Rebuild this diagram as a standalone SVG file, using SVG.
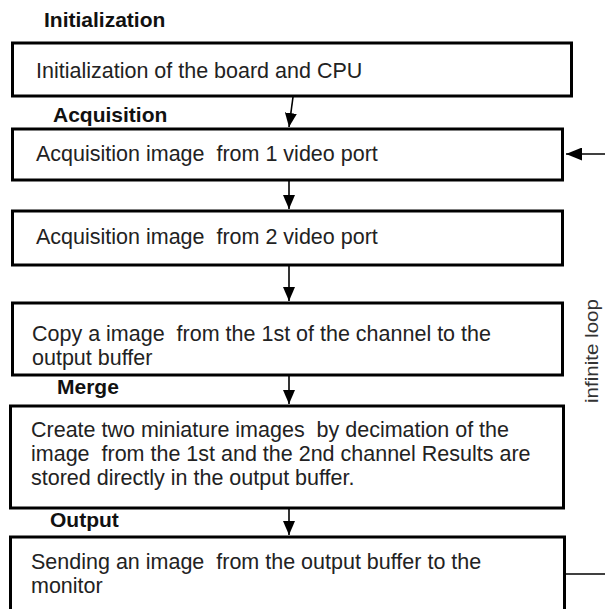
<svg xmlns="http://www.w3.org/2000/svg" width="605" height="609" viewBox="0 0 605 609">
  <defs>
    <marker id="head" viewBox="0 0 14 12" refX="14" refY="6" markerWidth="14" markerHeight="12" markerUnits="userSpaceOnUse" orient="auto">
      <path d="M0,0 L14,6 L0,12 z" fill="#000"/>
    </marker>
    <marker id="headSide" viewBox="0 0 16 13" refX="16" refY="6.5" markerWidth="16" markerHeight="13" markerUnits="userSpaceOnUse" orient="auto">
      <path d="M0,0 L16,6.5 L0,13 z" fill="#000"/>
    </marker>
    <style>
      .box { fill: #fff; stroke: #000; stroke-width: 3; }
      .txt { font-family: "Liberation Sans", Arial, sans-serif; font-size: 21.5px; fill: #222; white-space: pre; }
      .lbl { font-family: "Liberation Sans", Arial, sans-serif; font-size: 21px; font-weight: bold; fill: #111; }
      .side { font-family: "Liberation Sans", Arial, sans-serif; font-size: 18px; fill: #333; }
      .conn { stroke: #000; stroke-width: 1.6; fill: none; }
    </style>
  </defs>
  <rect width="605" height="609" fill="#fff"/>

  <!-- stage titles -->
  <text class="lbl" x="44" y="27">Initialization</text>
  <text class="lbl" x="53" y="122">Acquisition</text>
  <text class="lbl" x="57" y="394">Merge</text>
  <text class="lbl" x="50" y="527">Output</text>

  <g id="init">
    <rect class="box" x="12.5" y="43" width="559" height="53"/>
    <text class="txt" x="36" y="78" xml:space="preserve">Initialization of the board and CPU</text>
  </g>

  <g id="acq1">
    <rect class="box" x="12.5" y="129" width="550" height="51"/>
    <text class="txt" x="36" y="161" xml:space="preserve">Acquisition image  from 1 video port</text>
  </g>

  <g id="acq2">
    <rect class="box" x="12.5" y="211" width="550" height="54"/>
    <text class="txt" x="36" y="244" xml:space="preserve">Acquisition image  from 2 video port</text>
  </g>

  <g id="copy">
    <rect class="box" x="12.5" y="303" width="550" height="72"/>
    <text class="txt" x="32" y="341" xml:space="preserve">Copy a image  from the 1st of the channel to the</text>
    <text class="txt" x="32" y="365">output buffer</text>
  </g>

  <g id="merge">
    <rect class="box" x="10.5" y="406" width="553" height="102"/>
    <text class="txt" x="31" y="437" xml:space="preserve">Create two miniature images  by decimation of the</text>
    <text class="txt" x="31" y="461" xml:space="preserve">image  from the 1st and the 2nd channel Results are</text>
    <text class="txt" x="31" y="485">stored directly in the output buffer.</text>
  </g>

  <g id="output">
    <rect class="box" x="10.5" y="537" width="554" height="90"/>
    <text class="txt" x="31" y="569" xml:space="preserve">Sending an image  from the output buffer to the</text>
    <text class="txt" x="31" y="593">monitor</text>
  </g>

  <text class="side" transform="translate(598,351) rotate(-90)" text-anchor="middle" textLength="104" lengthAdjust="spacingAndGlyphs">infinite loop</text>

  <g id="connectors">
    <line class="conn" x1="293" y1="97" x2="289" y2="127" marker-end="url(#head)"/>
    <line class="conn" x1="289" y1="181" x2="289" y2="209" marker-end="url(#head)"/>
    <line class="conn" x1="289" y1="266" x2="289" y2="301" marker-end="url(#head)"/>
    <line class="conn" x1="289" y1="376" x2="289" y2="404" marker-end="url(#head)"/>
    <line class="conn" x1="289" y1="509" x2="289" y2="535" marker-end="url(#head)"/>
    <line class="conn" x1="605" y1="154" x2="566" y2="154" marker-end="url(#headSide)"/>
    <line class="conn" x1="565" y1="574" x2="605" y2="574"/>
  </g>
</svg>
